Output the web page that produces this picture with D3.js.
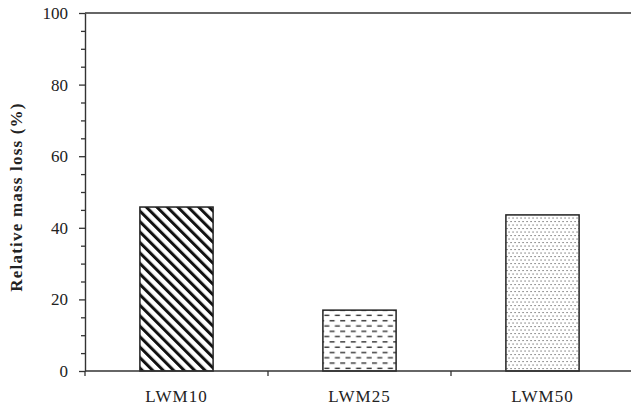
<!DOCTYPE html>
<html>
<head>
<meta charset="utf-8">
<script src="https://cdn.jsdelivr.net/npm/d3@7"></script>
<style>
  html, body { margin: 0; padding: 0; background: #fff; }
  svg { display: block; }
  svg text { font-family: 'Liberation Serif', Tinos, 'Times New Roman', Times, 'DejaVu Serif', serif !important; fill: #222; }
</style>
</head>
<body>
<svg id="chart" width="631" height="407"></svg>
<script>
const categories = ["LWM10", "LWM25", "LWM50"];
const values = [45.8, 17.0, 43.6];
const patterns = ["diag", "dash", "dots"];
const majorTicks = [0, 20, 40, 60, 80, 100];
const minorTicks = [5, 10, 15, 25, 30, 35, 45, 50, 55, 65, 70, 75, 85, 90, 95];
const yLabel = "Relative mass loss (%)";

const FONT = "'Liberation Serif', Tinos, 'Times New Roman', Times, serif";
const svg = d3.select("#chart");
const mLeft = 85, mRight = 634, mTop = 13, mBottom = 371;
const axisColor = "#333";

const x = d3.scaleBand().domain(categories).range([mLeft, mRight]).paddingInner(0.6).paddingOuter(0.3);
const xEdges = d3.scaleBand().domain(categories).range([mLeft, mRight]);
const y = d3.scaleLinear().domain([0, 100]).range([mBottom, mTop]);

// patterns
const defs = svg.append("defs");
const pDiag = defs.append("pattern").attr("id", "diag").attr("patternUnits", "userSpaceOnUse")
  .attr("width", 7.4).attr("height", 7.4).attr("patternTransform", "rotate(-45)");
pDiag.append("rect").attr("width", 7.4).attr("height", 7.4).attr("fill", "#fff");
pDiag.append("rect").attr("x", 0).attr("y", 0).attr("width", 3).attr("height", 7.4).attr("fill", "#111");

const pDash = defs.append("pattern").attr("id", "dash").attr("patternUnits", "userSpaceOnUse")
  .attr("width", 10.6).attr("height", 10.6);
pDash.append("rect").attr("width", 10.6).attr("height", 10.6).attr("fill", "#fff");
pDash.append("rect").attr("x", 1).attr("y", 2).attr("width", 5).attr("height", 1.4).attr("fill", "#333");
pDash.append("rect").attr("x", 6.3).attr("y", 7.3).attr("width", 5).attr("height", 1.4).attr("fill", "#333");
pDash.append("rect").attr("x", -4.3).attr("y", 7.3).attr("width", 5).attr("height", 1.4).attr("fill", "#333");

const pDots = defs.append("pattern").attr("id", "dots").attr("patternUnits", "userSpaceOnUse")
  .attr("width", 4).attr("height", 7);
pDots.append("rect").attr("width", 4).attr("height", 7).attr("fill", "#fff");
pDots.append("rect").attr("x", 0.5).attr("y", 0.5).attr("width", 1.1).attr("height", 1.1).attr("fill", "#555");
pDots.append("rect").attr("x", 2.5).attr("y", 4).attr("width", 1.1).attr("height", 1.1).attr("fill", "#555");

// bars
svg.append("g").selectAll("rect").data(categories).join("rect")
  .attr("x", d => x(d))
  .attr("y", (d, i) => y(values[i]))
  .attr("width", x.bandwidth())
  .attr("height", (d, i) => y(0) - y(values[i]))
  .attr("fill", (d, i) => `url(#${patterns[i]})`)
  .attr("stroke", "#222").attr("stroke-width", 1.5);

// top line
svg.append("line").attr("x1", mLeft).attr("x2", 631).attr("y1", y(100)).attr("y2", y(100))
  .attr("stroke", axisColor).attr("stroke-width", 1.4);

// y axis minor
const yMinor = svg.append("g").attr("transform", `translate(${mLeft},0)`)
  .call(d3.axisLeft(y).tickValues(minorTicks).tickSize(4).tickFormat(""));
yMinor.select(".domain").remove();
yMinor.selectAll("line").attr("stroke", axisColor).attr("stroke-width", 1.3);

// y axis major
const yAxis = svg.append("g").attr("transform", `translate(${mLeft},0)`)
  .call(d3.axisLeft(y).tickValues(majorTicks).tickSize(6).tickPadding(11).tickSizeOuter(0));
yAxis.attr("font-family", FONT);
yAxis.select(".domain").attr("stroke", axisColor).attr("stroke-width", 1.4);
yAxis.selectAll("line").attr("stroke", axisColor).attr("stroke-width", 1.3);
yAxis.selectAll("text").attr("font-size", 17).style("font-family", FONT).attr("fill", "#222");

// x axis
const xAxis = svg.append("g").attr("transform", `translate(0,${mBottom})`)
  .call(d3.axisBottom(xEdges).tickSize(0).tickFormat(""));
xAxis.select(".domain").attr("d", `M${mLeft},0H631`).attr("stroke", axisColor).attr("stroke-width", 1.4);
xAxis.selectAll(".tick").remove();
xAxis.selectAll(".edge").data(categories).join("line").attr("class", "edge")
  .attr("x1", d => xEdges(d)).attr("x2", d => xEdges(d)).attr("y1", 0).attr("y2", 5)
  .attr("stroke", axisColor).attr("stroke-width", 1.3);

svg.append("g").selectAll("text").data(categories).join("text")
  .attr("x", d => x(d) + x.bandwidth() / 2)
  .attr("y", 402)
  .attr("text-anchor", "middle")
  .attr("font-size", 17)
  .attr("letter-spacing", 1)
  .style("font-family", FONT)
  .text(d => d);

// y label
svg.append("text")
  .attr("transform", `translate(22,${(mTop + mBottom) / 2 + 5}) rotate(-90)`)
  .attr("text-anchor", "middle")
  .attr("font-size", 17)
  .attr("font-weight", "bold")
  .attr("letter-spacing", 1.2)
  .style("font-family", FONT)
  .text(yLabel);
</script>
</body>
</html>
